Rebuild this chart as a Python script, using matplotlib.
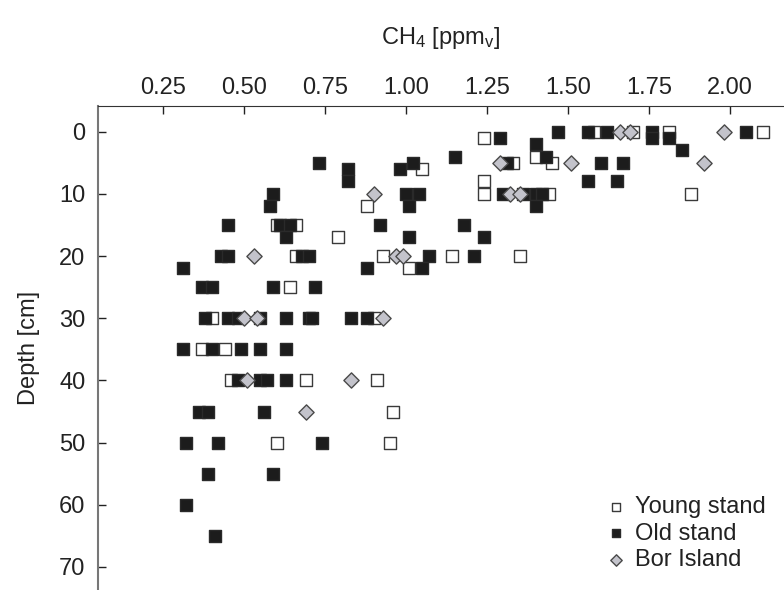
import matplotlib
matplotlib.use("Agg")
import matplotlib.pyplot as plt

# ---- data ----
young_ch4 = [1.24, 1.40, 1.45, 1.33, 1.05, 1.24, 0.88, 1.24, 1.44, 1.58, 1.70, 1.81,
             1.88, 2.10, 0.60, 0.66, 0.79, 0.66, 0.93, 1.14, 1.35, 1.01, 0.64, 0.40,
             0.90, 0.37, 0.44, 0.46, 0.69, 0.91, 0.96, 0.60, 0.95]
young_depth = [1, 4, 5, 5, 6, 8, 12, 10, 10, 0, 0, 0,
               10, 0, 15, 15, 17, 20, 20, 20, 20, 22, 25, 30,
               30, 35, 35, 40, 40, 40, 45, 50, 50]

old_ch4 = [1.47, 1.56, 1.62, 1.76, 2.05,
           1.29, 1.76, 1.81,
           1.40, 1.85, 1.15, 1.43,
           0.73, 1.02, 1.31, 1.60, 1.67,
           0.82, 0.98,
           0.82, 1.56, 1.65,
           0.59, 1.00, 1.04, 1.30, 1.36, 1.40, 1.42,
           0.58, 1.01, 1.40,
           0.45, 0.61, 0.64, 0.92, 1.18,
           0.63, 1.01, 1.24,
           0.43, 0.45, 0.68, 0.70, 1.07, 1.21,
           0.31, 0.88, 1.05,
           0.37, 0.40, 0.59, 0.72,
           0.38, 0.45, 0.48, 0.55, 0.63, 0.70, 0.71, 0.83, 0.88,
           0.31, 0.40, 0.49, 0.55, 0.63,
           0.48, 0.55, 0.57, 0.63,
           0.36, 0.39, 0.56,
           0.32, 0.42, 0.74,
           0.39, 0.59,
           0.32,
           0.41]
old_depth = [0, 0, 0, 0, 0,
             1, 1, 1,
             2, 3, 4, 4,
             5, 5, 5, 5, 5,
             6, 6,
             8, 8, 8,
             10, 10, 10, 10, 10, 10, 10,
             12, 12, 12,
             15, 15, 15, 15, 15,
             17, 17, 17,
             20, 20, 20, 20, 20, 20,
             22, 22, 22,
             25, 25, 25, 25,
             30, 30, 30, 30, 30, 30, 30, 30, 30,
             35, 35, 35, 35, 35,
             40, 40, 40, 40,
             45, 45, 45,
             50, 50, 50,
             55, 55,
             60,
             65]

bor_ch4 = [1.66, 1.69, 1.98, 1.29, 1.51, 1.92, 0.90, 1.32, 1.35,
           0.53, 0.97, 0.99, 0.50, 0.54, 0.93, 0.51, 0.83, 0.69]
bor_depth = [0, 0, 0, 5, 5, 5, 10, 10, 10,
             20, 20, 20, 30, 30, 30, 40, 40, 45]

x_ticks = [0.25, 0.50, 0.75, 1.00, 1.25, 1.50, 1.75, 2.00]
y_ticks = [0, 10, 20, 30, 40, 50, 60, 70]

plt.rcParams['font.family'] = ['Liberation Sans', 'DejaVu Sans']
plt.rcParams['mathtext.default'] = 'regular'

fig = plt.figure(figsize=(7.84, 5.90), dpi=100)
ax = fig.add_axes([98/784, 0.0, 1 - 98/784, 1 - 106/590])

ms = 66
ax.scatter(young_ch4, young_depth, marker='s', s=ms, facecolor='white',
           edgecolor='#3a3a3a', linewidth=1.0, label='Young stand', zorder=3)
ax.scatter(old_ch4, old_depth, marker='s', s=ms, facecolor='#1c1c1c',
           edgecolor='#2a2a2a', linewidth=1.0, label='Old stand', zorder=4)
ax.scatter(bor_ch4, bor_depth, marker='D', s=60, facecolor='#c3c3cb',
           edgecolor='#4a4a4a', linewidth=1.0, label='Bor Island', zorder=5)

ax.set_xlim(0.049, 2.166)
ax.set_ylim(73.7, -4.13)

ax.xaxis.tick_top()
ax.xaxis.set_label_position('top')
ax.set_xticks(x_ticks)
ax.set_xticklabels([f"{v:.2f}" for v in x_ticks])
ax.set_yticks(y_ticks)
ax.tick_params(axis='both', direction='in', length=6, width=1.0,
               labelsize=17, colors='#222222')
ax.tick_params(axis='x', pad=5)
ax.tick_params(axis='y', pad=9)

for side in ['right', 'bottom']:
    ax.spines[side].set_visible(False)
ax.spines['top'].set_color('#333333')
ax.spines['left'].set_color('#777777')
ax.spines['left'].set_linewidth(1.5)

ax.set_xlabel('CH$_4$ [ppm$_v$]', fontsize=17, labelpad=24, color='#222222')
ax.set_ylabel('Depth [cm]', fontsize=17, labelpad=14, color='#222222')

leg = ax.legend(loc='upper left', bbox_to_anchor=(590/784, 1 - 484/590),
                bbox_transform=fig.transFigure, frameon=False, fontsize=17,
                markerscale=0.75, handletextpad=0.2, labelspacing=0.2,
                borderpad=0, handlelength=1.2)
for t in leg.get_texts():
    t.set_color('#222222')

fig.savefig('out.png', dpi=100)
